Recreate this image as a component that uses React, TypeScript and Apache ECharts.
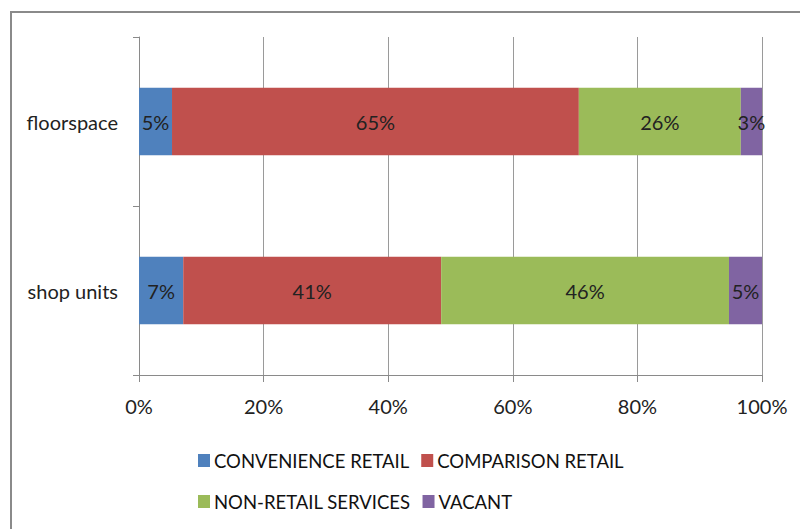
import React, { useEffect, useRef } from "react";
import * as echarts from "echarts";

const categories = ["shop units", "floorspace"];
const seriesNames = ["CONVENIENCE RETAIL", "COMPARISON RETAIL", "NON-RETAIL SERVICES", "VACANT"];
const convenience = [7.1, 5.3];
const comparison = [41.4, 65.3];
const nonRetail = [46.2, 26.0];
const vacant = [5.3, 3.4];
const colors = ["#4F81BD", "#C0504D", "#9BBB59", "#8064A2"];
const xTicks = [0, 20, 40, 60, 80, 100];

const FONT = "Lato, 'Open Sans', sans-serif";

export default function App() {
  const ref = useRef<HTMLDivElement>(null);
  useEffect(() => {
    if (!ref.current) return;
    const chart = echarts.init(ref.current, undefined, { renderer: "svg" });
    const values = [convenience, comparison, nonRetail, vacant];
    const legendText = { fontFamily: FONT, fontSize: 18.5, color: "#111", padding: [0, 0, 0, -1] };
    chart.setOption({
      animation: false,
      backgroundColor: "#ffffff",
      textStyle: { fontFamily: FONT },
      graphic: [
        {
          type: "rect",
          shape: { x: 11, y: 12, width: 820, height: 560 },
          style: { fill: "none", stroke: "#8a8a8a", lineWidth: 2 },
          silent: true,
        },
      ],
      legend: [
        {
          data: seriesNames.slice(0, 2),
          left: 193,
          top: 446,
          itemWidth: 12,
          itemHeight: 13,
          itemGap: 12,
          icon: "rect",
          textStyle: legendText,
        },
        {
          data: seriesNames.slice(2, 4),
          left: 193,
          top: 487,
          itemWidth: 12,
          itemHeight: 13,
          itemGap: 12,
          icon: "rect",
          textStyle: legendText,
        },
      ],
      grid: { left: 139, right: 38, top: 37, bottom: 154, containLabel: false },
      xAxis: {
        type: "value",
        min: xTicks[0],
        max: xTicks[xTicks.length - 1],
        interval: 20,
        axisLine: { show: true, lineStyle: { color: "#8a8a8a", width: 1 } },
        axisTick: { show: true, length: 7, lineStyle: { color: "#8a8a8a" } },
        splitLine: { show: true, lineStyle: { color: "#9a9a9a", width: 1 } },
        axisLabel: {
          formatter: (v: number) => v + "%",
          fontSize: 20,
          color: "#222",
          margin: 21,
          fontFamily: FONT,
        },
      },
      yAxis: {
        type: "category",
        data: categories,
        axisLine: { show: true, lineStyle: { color: "#8a8a8a", width: 1 } },
        axisTick: { show: true, length: 6, lineStyle: { color: "#8a8a8a" } },
        axisLabel: { fontSize: 20, color: "#222", margin: 21, fontFamily: FONT },
      },
      series: seriesNames.map((name, i) => ({
        name,
        type: "bar",
        stack: "total",
        barWidth: "40%",
        itemStyle: { color: colors[i] },
        label: {
          show: true,
          position: "inside",
          formatter: (p: any) => Math.round(p.value) + "%",
          fontSize: 20,
          color: "#222",
          fontFamily: FONT,
        },
        data: values[i],
      })),
    });
    return () => chart.dispose();
  }, []);
  return (
    <div
      ref={ref}
      style={{ position: "fixed", left: 0, top: 0, width: 800, height: 529 }}
    />
  );
}
